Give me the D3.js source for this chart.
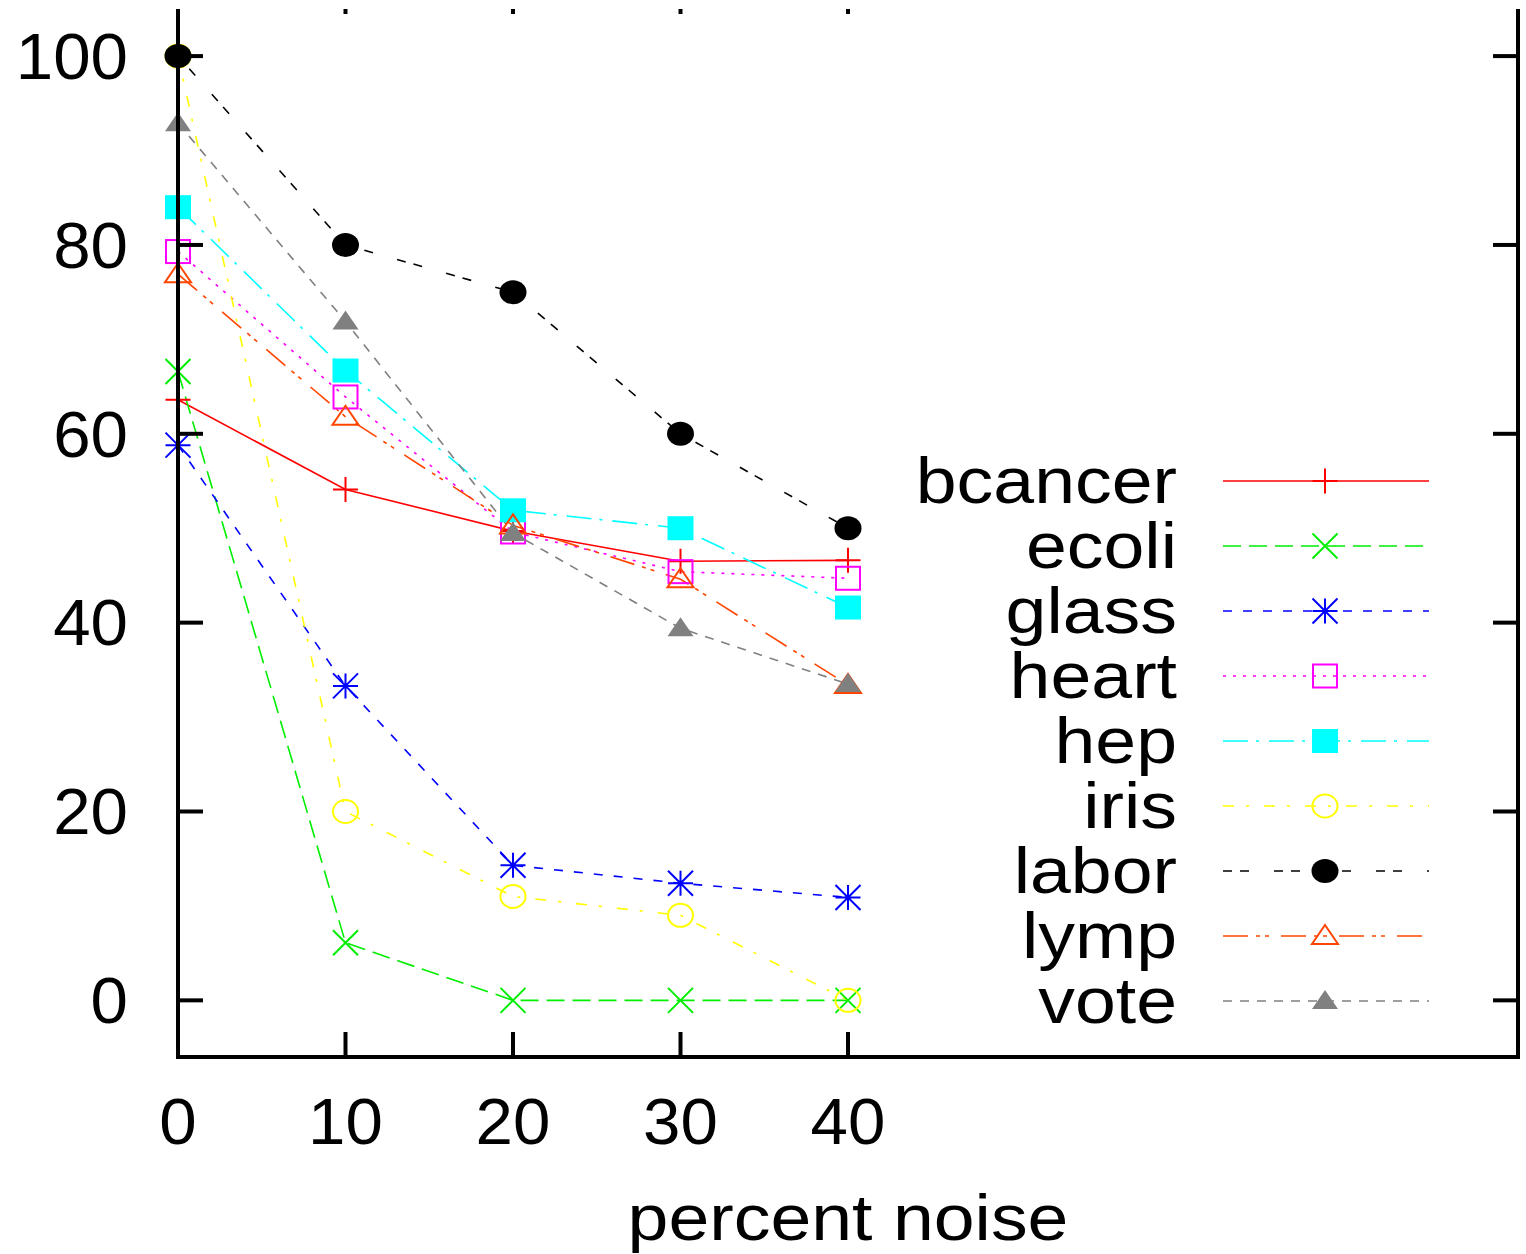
<!DOCTYPE html>
<html>
<head>
<meta charset="utf-8">
<script src="https://cdn.jsdelivr.net/npm/d3@7"></script>
<style>
html,body{margin:0;padding:0;background:#fff;}
svg{display:block;}
text{font-family:"Liberation Sans",Arial,Helvetica,sans-serif;fill:#000;}
</style>
</head>
<body>
<svg id="chart" width="1526" height="1254"></svg>
<script>
// ---- data ----
const noise = [0, 10, 20, 30, 40];
const seriesNames = ["bcancer","ecoli","glass","heart","hep","iris","labor","lymp","vote"];
const bcancer = [63.6, 54.1, 49.7, 46.5, 46.6];
const ecoli   = [66.6, 6.1, 0, 0, 0];
const glass   = [58.8, 33.3, 14.3, 12.4, 10.9];
const heart   = [79.3, 63.9, 49.6, 45.4, 44.7];
const hep     = [84.0, 66.7, 51.9, 50.0, 41.6];
const iris    = [100, 20.0, 11.0, 9.0, 0];
const labor   = [100, 80.0, 75.0, 60.0, 50.0];
const lymp    = [76.9, 61.8, 50.3, 44.6, 33.4];
const vote    = [92.9, 71.9, 49.5, 39.4, 33.5];
const yTicks = [0, 20, 40, 60, 80, 100];
const xTicks = [0, 10, 20, 30, 40];
const xLabel = "percent noise";

const values = {bcancer, ecoli, glass, heart, hep, iris, labor, lymp, vote};

// ---- styles ----
const styles = {
  bcancer:{color:"#ff0000", dash:null,              marker:"plus"},
  ecoli:  {color:"#00ee00", dash:"18,8",            marker:"cross"},
  glass:  {color:"#0000ff", dash:"9,11",            marker:"star"},
  heart:  {color:"#ff00ff", dash:"3,7",             marker:"square"},
  hep:    {color:"#00ffff", dash:"25,8,3,10",       marker:"fsquare"},
  iris:   {color:"#ffff00", dash:"11,12,3,15",      marker:"circle"},
  labor:  {color:"#000000", dash:"9,8,9,25",        marker:"fcircle"},
  lymp:   {color:"#ff4500", dash:"25,8,4,5,4,12",   marker:"triangle"},
  vote:   {color:"#808080", dash:"9,8",             marker:"ftriangle"}
};

const svg = d3.select("#chart");
const pLeft = 178, pRight = 1518, pBottom = 1057, pTop = -11;

const x = d3.scaleLinear().domain([0, 80]).range([pLeft, pRight]);
const y = d3.scaleLinear().domain([-6, 107]).range([pBottom, pTop + 1]);

const FS = 65;
const SX_TEXT = 1.13;  // horizontal stretch of words
const SX_NUM = 1.035;  // horizontal stretch of numbers

function label(g, tx, ty, str, anchor, sx, dy){
  return g.append("text")
    .attr("transform",`translate(${tx},${ty}) scale(${sx},1)`)
    .attr("x",0).attr("y",0).attr("dy",dy)
    .attr("text-anchor",anchor).attr("font-size",FS).text(str);
}

// ---- lines ----
const line = d3.line().x((d,i)=>x(noise[i])).y(d=>y(d));
const plot = svg.append("g");
seriesNames.forEach(name=>{
  const st = styles[name];
  plot.append("path")
    .datum(values[name])
    .attr("d", line)
    .attr("fill","none")
    .attr("stroke", st.color)
    .attr("stroke-width", 1.6)
    .attr("stroke-dasharray", st.dash);
});

function drawMarker(g, type, color, cx, cy){
  const s = 12.5;
  const sw = 2;
  if(type==="plus"){
    g.append("path").attr("d",`M${cx-s},${cy}H${cx+s}M${cx},${cy-s}V${cy+s}`)
      .attr("stroke",color).attr("stroke-width",sw).attr("fill","none");
  } else if(type==="cross"){
    g.append("path").attr("d",`M${cx-s},${cy-s}L${cx+s},${cy+s}M${cx-s},${cy+s}L${cx+s},${cy-s}`)
      .attr("stroke",color).attr("stroke-width",sw).attr("fill","none");
  } else if(type==="star"){
    g.append("path").attr("d",`M${cx-s},${cy}H${cx+s}M${cx},${cy-s}V${cy+s}M${cx-s},${cy-s}L${cx+s},${cy+s}M${cx-s},${cy+s}L${cx+s},${cy-s}`)
      .attr("stroke",color).attr("stroke-width",sw).attr("fill","none");
  } else if(type==="square"){
    g.append("rect").attr("x",cx-12).attr("y",cy-11.5).attr("width",24).attr("height",23)
      .attr("stroke",color).attr("stroke-width",sw).attr("fill","none");
  } else if(type==="fsquare"){
    g.append("rect").attr("x",cx-13).attr("y",cy-12).attr("width",26).attr("height",24)
      .attr("fill",color);
  } else if(type==="circle"){
    g.append("ellipse").attr("cx",cx).attr("cy",cy).attr("rx",12.5).attr("ry",11.5)
      .attr("stroke",color).attr("stroke-width",sw).attr("fill","none");
  } else if(type==="fcircle"){
    g.append("ellipse").attr("cx",cx).attr("cy",cy).attr("rx",13.5).attr("ry",12)
      .attr("fill",color);
  } else if(type==="triangle"){
    g.append("path").attr("d",`M${cx},${cy-11}L${cx+13},${cy+8}L${cx-13},${cy+8}Z`)
      .attr("stroke",color).attr("stroke-width",sw).attr("fill","none");
  } else if(type==="ftriangle"){
    g.append("path").attr("d",`M${cx},${cy-11}L${cx+13},${cy+8}L${cx-13},${cy+8}Z`)
      .attr("fill",color);
  }
}

seriesNames.forEach(name=>{
  const st = styles[name];
  const g = plot.append("g");
  values[name].forEach((v,i)=>drawMarker(g, st.marker, st.color, x(noise[i]), y(v)));
});

// ---- frame & ticks ----
const axes = svg.append("g");
const tickLen = 25;
axes.append("path")
  .attr("d",`M${pLeft},${pTop}V${pBottom}H${pRight}V${pTop}Z`)
  .attr("fill","none").attr("stroke","#000").attr("stroke-width",4);

yTicks.forEach(t=>{
  axes.append("line").attr("x1",pLeft).attr("x2",pLeft+tickLen).attr("y1",y(t)).attr("y2",y(t))
    .attr("stroke","#000").attr("stroke-width",4);
  axes.append("line").attr("x1",pRight).attr("x2",pRight-tickLen).attr("y1",y(t)).attr("y2",y(t))
    .attr("stroke","#000").attr("stroke-width",4);
  label(axes, 128, y(t), t, "end", SX_NUM, "0.35em");
});
xTicks.forEach(t=>{
  if(t!==0){
    axes.append("line").attr("x1",x(t)).attr("x2",x(t)).attr("y1",pBottom).attr("y2",pBottom-tickLen)
      .attr("stroke","#000").attr("stroke-width",4);
    axes.append("line").attr("x1",x(t)).attr("x2",x(t)).attr("y1",pTop).attr("y2",pTop+tickLen)
      .attr("stroke","#000").attr("stroke-width",4);
  }
  label(axes, x(t), 1144, t, "middle", SX_NUM, 0);
});
label(axes, (pLeft+pRight)/2, 1240, xLabel, "middle", SX_TEXT, 0);

// ---- legend ----
const leg = svg.append("g");
seriesNames.forEach((name,i)=>{
  const st = styles[name];
  const ly = 481 + i*65;
  label(leg, 1177, ly, name, "end", SX_TEXT, "0.34em");
  leg.append("line").attr("x1",1223).attr("x2",1429).attr("y1",ly).attr("y2",ly)
    .attr("stroke",st.color).attr("stroke-width",1.6).attr("stroke-dasharray",st.dash);
  drawMarker(leg, st.marker, st.color, 1325, ly);
});

// blank strip at the very top (image is cropped there)
svg.append("rect").attr("x",0).attr("y",0).attr("width",1526).attr("height",9).attr("fill","#fff");
</script>
</body>
</html>
